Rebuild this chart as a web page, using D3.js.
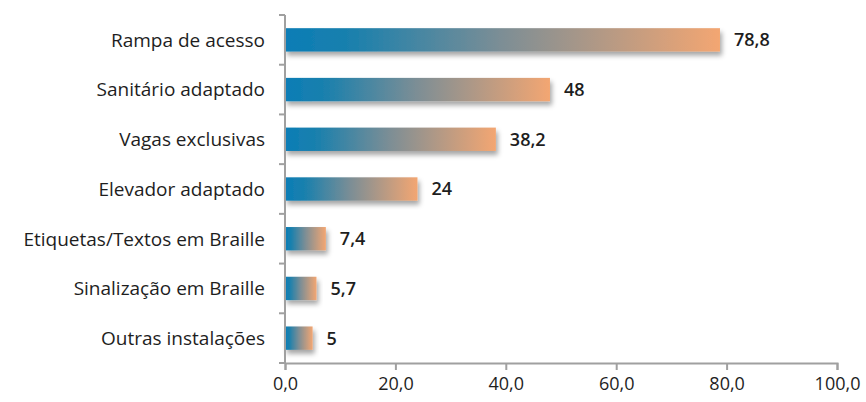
<!DOCTYPE html>
<html>
<head>
<meta charset="utf-8">
<script src="https://cdn.jsdelivr.net/npm/d3@7"></script>
<style>
  body { margin: 0; background: #fff; }
  svg text { font-family: "Open Sans", sans-serif; fill: #1e1e1e; }
</style>
</head>
<body>
<div id="chart"></div>
<script>
const categories = [
  'Rampa de acesso',
  'Sanitário adaptado',
  'Vagas exclusivas',
  'Elevador adaptado',
  'Etiquetas/Textos em Braille',
  'Sinalização em Braille',
  'Outras instalações'
];
const values = [78.8, 48, 38.2, 24, 7.4, 5.7, 5];
const valueLabels = ['78,8', '48', '38,2', '24', '7,4', '5,7', '5'];
const xTicks = [0, 20, 40, 60, 80, 100];

const width = 866;
const height = 402;
const margin = { top: 15, right: 29, bottom: 39, left: 285 };

const svg = d3.select('#chart').append('svg')
  .attr('width', width)
  .attr('height', height);

const defs = svg.append('defs');
const grad = defs.append('linearGradient')
  .attr('id', 'barGrad')
  .attr('x1', '0%').attr('x2', '100%')
  .attr('y1', '0%').attr('y2', '0%');
grad.append('stop').attr('offset', '0%').attr('stop-color', '#0b7db6');
grad.append('stop').attr('offset', '15%').attr('stop-color', '#1a80ad');
grad.append('stop').attr('offset', '50%').attr('stop-color', '#7d8e95');
grad.append('stop').attr('offset', '100%').attr('stop-color', '#f3a672');

const shadow = defs.append('filter')
  .attr('id', 'shadow')
  .attr('x', '-10%').attr('y', '-30%')
  .attr('width', '130%').attr('height', '180%');
shadow.append('feDropShadow')
  .attr('dx', 2).attr('dy', 4)
  .attr('stdDeviation', 2.5)
  .attr('flood-color', '#000')
  .attr('flood-opacity', 0.35);

const x = d3.scaleLinear()
  .domain([0, 100])
  .range([margin.left, width - margin.right]);

const y = d3.scaleBand()
  .domain(categories)
  .range([margin.top, height - margin.bottom])
  .paddingInner(0.53)
  .paddingOuter(0.265);

// bars
svg.append('g')
  .selectAll('rect')
  .data(values)
  .join('rect')
  .attr('x', x(0))
  .attr('y', (d, i) => y(categories[i]))
  .attr('width', d => x(d) - x(0))
  .attr('height', y.bandwidth())
  .attr('fill', 'url(#barGrad)')
  .attr('filter', 'url(#shadow)');

// value labels
svg.append('g')
  .selectAll('text')
  .data(values)
  .join('text')
  .attr('x', d => x(d) + 14)
  .attr('y', (d, i) => y(categories[i]) + y.bandwidth() / 2)
  .attr('dy', '0.36em')
  .attr('font-size', '18px')
  .attr('font-weight', 600)
  .text((d, i) => valueLabels[i]);

// x axis
const xAxis = svg.append('g')
  .attr('transform', `translate(0, ${height - margin.bottom})`)
  .call(d3.axisBottom(x)
    .tickValues(xTicks)
    .tickSize(7)
    .tickPadding(7)
    .tickFormat(d => d3.format('.1f')(d).replace('.', ',')));
xAxis.select('.domain').attr('stroke', '#a0a0a0').attr('stroke-width', 2);
xAxis.selectAll('.tick line').attr('stroke', '#a0a0a0').attr('stroke-width', 2);
xAxis.selectAll('.tick text')
  .attr('font-size', '18px')
  .attr('font-family', '"Open Sans", sans-serif')
  .attr('fill', '#1e1e1e');

// y axis with ticks on category boundaries
const step = y.step();
const bounds = d3.range(categories.length + 1).map(i => margin.top + i * step);
const yAxis = svg.append('g');
yAxis.append('line')
  .attr('x1', x(0)).attr('x2', x(0))
  .attr('y1', margin.top).attr('y2', height - margin.bottom)
  .attr('stroke', '#a0a0a0').attr('stroke-width', 2);
yAxis.selectAll('line.tick')
  .data(bounds)
  .join('line')
  .attr('class', 'tick')
  .attr('x1', x(0) - 6).attr('x2', x(0))
  .attr('y1', d => d).attr('y2', d => d)
  .attr('stroke', '#a0a0a0').attr('stroke-width', 2);

yAxis.selectAll('text')
  .data(categories)
  .join('text')
  .attr('x', x(0) - 20)
  .attr('y', d => y(d) + y.bandwidth() / 2)
  .attr('dy', '0.36em')
  .attr('text-anchor', 'end')
  .attr('font-size', '19px')
  .text(d => d);
</script>
</body>
</html>
